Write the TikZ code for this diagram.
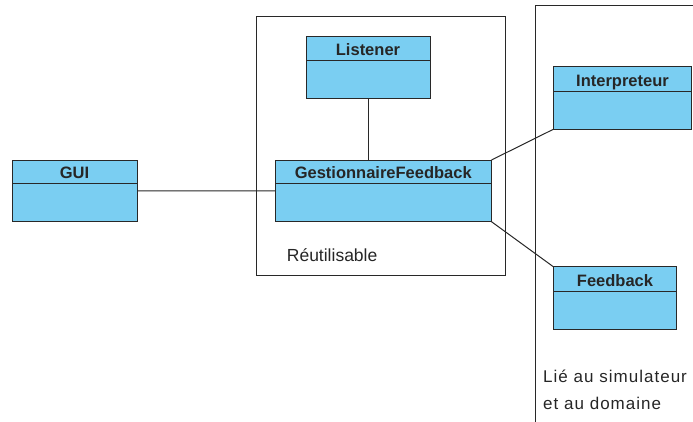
\documentclass[tikz,border=0pt]{standalone}
\usepackage{fontspec}
\setmainfont{Liberation Sans}
\newfontfamily\spacedfont[LetterSpace=6]{Liberation Sans}
\usepackage{tikz}
\usetikzlibrary{positioning}
\definecolor{classblue}{RGB}{122,206,242}
\definecolor{linegray}{RGB}{40,40,40}

\begin{document}
\begin{tikzpicture}[x=1pt,y=-1pt,
  umlclass/.style={draw=linegray,fill=classblue,line width=1pt,rectangle,inner sep=0pt,outer sep=0pt},
  clsname/.style={anchor=base,inner sep=0pt,font=\fontsize{16.5}{18}\selectfont\bfseries,text=black!85},
  frame/.style={draw=linegray,line width=0.9pt,inner sep=0pt,outer sep=0pt},
  assoc/.style={draw=linegray,line width=1pt}]
\useasboundingbox (0,0) rectangle (693,421);
\tikzstyle{every node}+=[inner sep=0pt]
% containers
\node [frame,minimum width=249pt,minimum height=258.3pt] (reuse) at (381.2,145.85) {};
\draw [frame] (535,425) -- (535,5) -- (697,5);
\node [anchor=base west,font=\fontsize{17.5}{20}\selectfont,text=black!85] (reuselbl) at (286.7,261.7) {Réutilisable};
\node [anchor=base west,align=left,font=\fontsize{17}{26.5}\selectfont\spacedfont,text=black!85] (domlbl) at (543,409) {Lié au simulateur\\et au domaine};
% classes
\node [umlclass,minimum width=125pt,minimum height=61.5pt] (gui) at (74.5,190.75) {};
\draw [linegray,line width=1pt] ([yshift=-23.5pt]gui.north west) -- ([yshift=-23.5pt]gui.north east);
\node [clsname] (guiname) at ([yshift=-18.7pt]gui.north) {GUI};
\node [umlclass,minimum width=124pt,minimum height=61.6pt] (listener) at (368,67.5) {};
\draw [linegray,line width=1pt] ([yshift=-24pt]listener.north west) -- ([yshift=-24pt]listener.north east);
\node [clsname] (listenername) at ([yshift=-18.7pt]listener.north) {Listener};
\node [umlclass,minimum width=216.5pt,minimum height=61.7pt] (gest) at (383.25,190.85) {};
\draw [linegray,line width=1pt] ([yshift=-23.3pt]gest.north west) -- ([yshift=-23.3pt]gest.north east);
\node [clsname] (gestname) at ([yshift=-18.7pt]gest.north) {GestionnaireFeedback};
\node [umlclass,minimum width=138.4pt,minimum height=62.6pt] (interp) at (622.5,98) {};
\draw [linegray,line width=1pt] ([yshift=-25pt]interp.north west) -- ([yshift=-25pt]interp.north east);
\node [clsname] (interpname) at ([yshift=-19.5pt]interp.north) {Interpreteur};
\node [umlclass,minimum width=123.4pt,minimum height=62.6pt] (feedback) at (615,298) {};
\draw [linegray,line width=1pt] ([yshift=-25pt]feedback.north west) -- ([yshift=-25pt]feedback.north east);
\node [clsname] (feedbackname) at ([yshift=-19.5pt]feedback.north) {Feedback};
% associations
\draw [assoc] (gui.east) -- (gest.west);
\draw [assoc] (listener.south) -- (listener.south |- gest.north);
\draw [assoc] (gest.north east) -- (interp.south west);
\draw [assoc] (gest.south east) -- (feedback.north west);
\end{tikzpicture}
\end{document}
